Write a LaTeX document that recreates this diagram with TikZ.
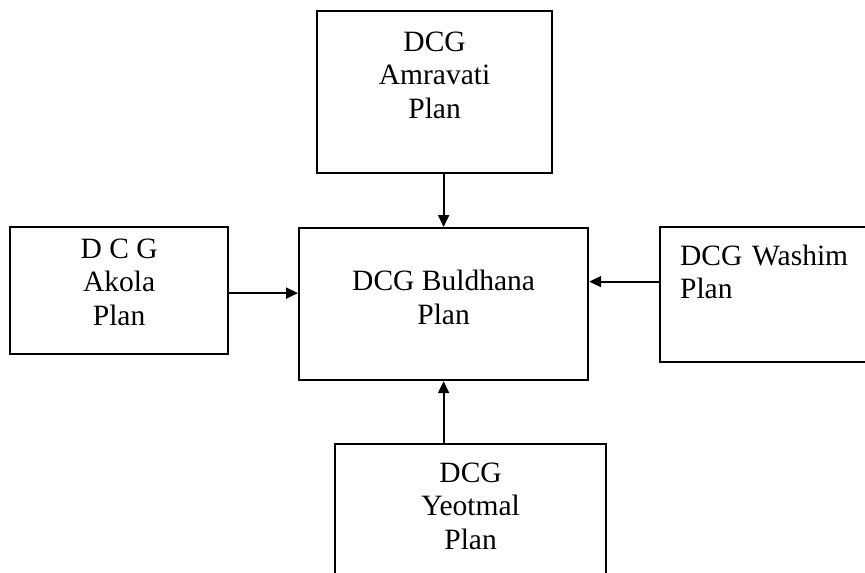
\documentclass[tikz,border=0pt]{standalone}
\usepackage{fontspec}
\setmainfont{Liberation Serif}
\usetikzlibrary{arrows.meta}

\begin{document}
\begin{tikzpicture}[
    x=1pt, y=-1pt,
    planbox/.style={draw, line width=2.2pt, anchor=north west, inner xsep=0pt, inner ysep=0pt,
        align=center, font=\fontsize{29.5}{33.5}\selectfont},
    arr/.style={line width=2pt, -{Triangle[length=12pt, width=11pt]}}
]
    % Frame
    \useasboundingbox (0, 0) rectangle (865, 573);
    \clip (0, 0) rectangle (865, 573);

    % Plans
    \node[planbox, minimum width=235pt, text height=107pt, text depth=55pt] (amr) at (316, 10) {DCG\\Amravati\\Plan};
    \node[planbox, minimum width=289pt, text height=96pt, text depth=56pt] (bul) at (298, 227) {DCG Buldhana\\Plan};
    \node[planbox, minimum width=218pt, text height=98pt, text depth=29pt] (ako) at (9, 226) {D C G\\Akola\\Plan};
    \node[planbox, align=left, inner xsep=20pt, text width=181pt, text height=38pt, text depth=97pt] (was) at (659, 226) {DCG Washim\\Plan};
    \node[planbox, minimum width=271pt, text height=105pt, text depth=42pt] (yeo) at (334, 443) {DCG\\Yeotmal\\Plan};

    % Links
    \draw[arr] (amr.south -| bul.north) -- (bul.north);
    \draw[arr] (yeo.north -| bul.south) -- (bul.south);
    \draw[arr] ([yshift=-2.5pt]ako.east) -- ([yshift=-2.5pt]ako.east -| bul.west);
    \draw[arr] ([yshift=13pt]was.west) -- ([yshift=13pt]was.west -| bul.east);
\end{tikzpicture}
\end{document}
